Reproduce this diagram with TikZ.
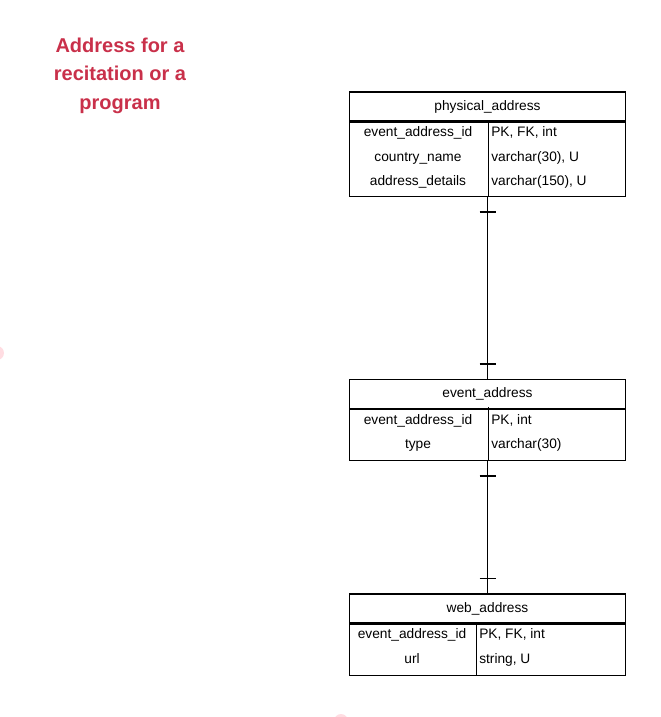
\documentclass[tikz,border=0pt]{standalone}
\usepackage{fontspec}
\setmainfont{Liberation Sans}
\usetikzlibrary{positioning, decorations.markings}
\definecolor{titlered}{HTML}{C9304A}
\definecolor{dotpink}{HTML}{FFDDE2}
\tikzset{
	tablehead/.style={
			draw=black,
			line width=0.9pt,
			minimum width=207pt,
			minimum height=21.75pt,
			inner sep=0pt,
			font=\fontsize{10.3}{12}\selectfont
		},
	tablebody/.style={
			draw=black,
			line width=0.9pt,
			minimum width=207pt,
			inner sep=0pt
		},
	keycell/.style={
			inner sep=0pt,
			text height=7.2pt,
			text depth=2pt,
			font=\fontsize{10.3}{12}\selectfont
		},
	typecell/.style={
			keycell,
			anchor=west
		},
	relation/.style={
			line width=1.3pt,
			postaction={decorate},
			decoration={markings,
				mark=at position 11.25pt with {\draw[line width=1.3pt] (0,-6pt) -- (0,6pt);},
				mark=at position -11.25pt with {\draw[line width=1.3pt] (0,-6pt) -- (0,6pt);}}
		}
}

\begin{document}
\begin{tikzpicture}[x=0.75pt, y=-0.75pt]
\useasboundingbox (0,0) rectangle (660,717);
\fill[dotpink] (-3,353) circle (7);
\fill[dotpink] (341,721) circle (7);

\node[text=titlered, align=center, font=\bfseries\fontsize{15}{21.4}\selectfont] (title) at (120,75.5) {Address for a\\recitation or a\\program};

% physical_address
\node[tablehead] (physhead) at (487.5,106.5) {physical\_address};
\node[tablebody, minimum height=55.5pt, below=0pt of physhead] (physbody) {};
\coordinate (physsplit) at (488.5,121);
\draw[line width=0.9pt] (physsplit) -- (physsplit |- physbody.south);
\node[keycell] (physk1) at (418,133.5) {event\_address\_id};
\node[keycell] (physk2) at (418,158.5) {country\_name};
\node[keycell] (physk3) at (418,182.5) {address\_details};
\node[typecell] (physt1) at (491,133.5) {PK, FK, int};
\node[typecell] (physt2) at (491,158.5) {varchar(30), U};
\node[typecell] (physt3) at (491,182.5) {varchar(150), U};

% event_address
\node[tablehead] (evhead) at (487.5,394) {event\_address};
\node[tablebody, minimum height=38.25pt, below=0pt of evhead] (evbody) {};
\coordinate (evsplit) at (488.5,407);
\draw[line width=0.9pt] (evsplit) -- (evsplit |- evbody.south);
\node[keycell] (evk1) at (418,421.5) {event\_address\_id};
\node[keycell] (evk2) at (418,445.5) {type};
\node[typecell] (evt1) at (491,421.5) {PK, int};
\node[typecell] (evt2) at (491,445.5) {varchar(30)};

% web_address
\node[tablehead] (webhead) at (487.5,608.5) {web\_address};
\node[tablebody, minimum height=38.25pt, below=0pt of webhead] (webbody) {};
\coordinate (websplit) at (476.5,622);
\draw[line width=0.9pt] (websplit) -- (websplit |- webbody.south);
\node[keycell] (webk1) at (412,635.5) {event\_address\_id};
\node[keycell] (webk2) at (412,660.5) {url};
\node[typecell] (webt1) at (479,635.5) {PK, FK, int};
\node[typecell] (webt2) at (479,660.5) {string, U};

\draw[relation] (physbody.south) -- (evhead.north);
\draw[relation] (evbody.south) -- (webhead.north);
\end{tikzpicture}
\end{document}
